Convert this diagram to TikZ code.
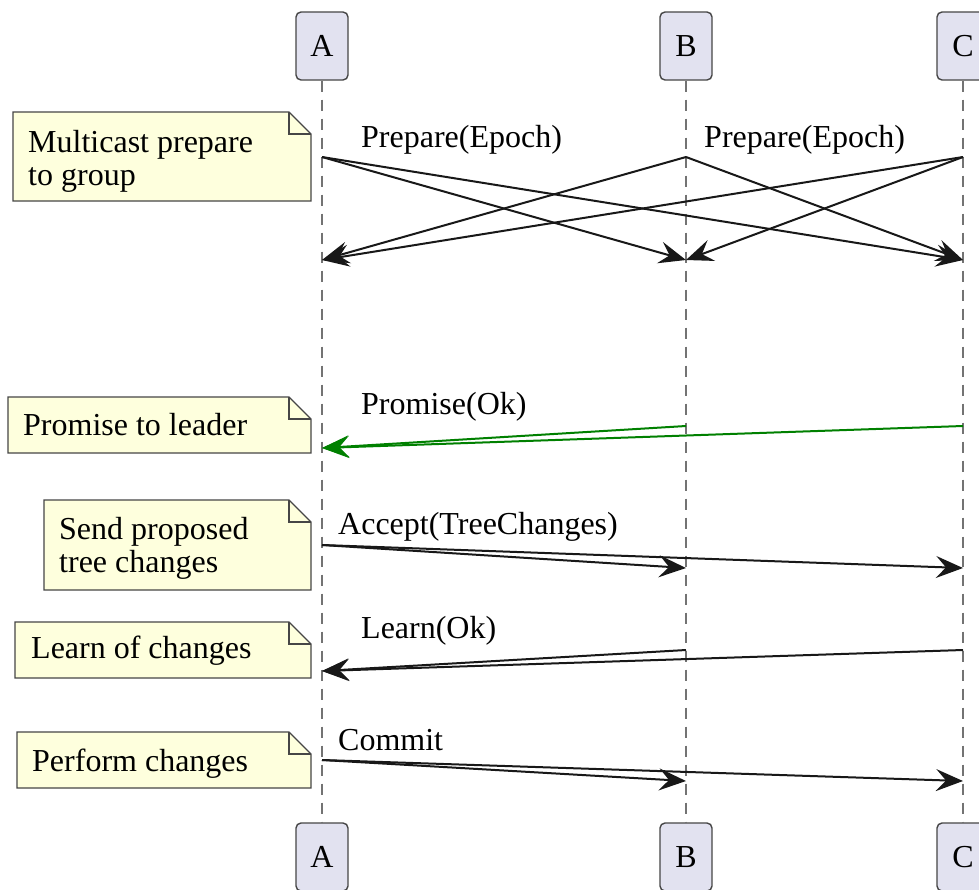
\documentclass[tikz,border=0pt]{standalone}
\usepackage{fontspec}
\setmainfont{Liberation Serif}
\usetikzlibrary{arrows.meta}
\definecolor{partfill}{HTML}{E2E2F0}
\definecolor{notefill}{HTML}{FEFFDD}
\definecolor{ink}{HTML}{181818}
\definecolor{okgreen}{HTML}{008000}
\tikzset{
  participant/.style={draw=ink!80, fill=partfill, line width=1.4pt, rounded corners=5pt,
    minimum width=52pt, minimum height=68pt, inner sep=0pt, font=\fontsize{32}{33}\selectfont},
  lifeline/.style={draw=gray!90!black, line width=1.3pt, dash pattern=on 11pt off 8pt},
  tip/.style={-{Stealth[length=27pt,width=22pt,inset=10pt]}},
  msg/.style={draw=ink, line width=2pt, tip},
  reply/.style={draw=okgreen, line width=2pt, tip},
  lbl/.style={anchor=base west, inner sep=0pt, font=\fontsize{32}{33}\selectfont},
  notebg/.style={draw=ink!80, fill=notefill, line width=1.2pt},
  notefold/.style={draw=ink!80, line width=1.2pt},
}
% note shape with a folded top-right corner: x1, y1, x2, y2
\newcommand\drawnote[4]{%
  \draw[notebg] (#1,#2) -- (#3-22,#2) -- (#3,#2+22) -- (#3,#4) -- (#1,#4) -- cycle;
  \draw[notefold] (#3-22,#2) -- (#3-22,#2+22) -- (#3,#2+22);}
\begin{document}
\begin{tikzpicture}[x=1pt,y=-1pt]
\useasboundingbox (0,0) rectangle (979,889);
\clip (0,0) rectangle (979,889);
\fill[white] (0,0) rectangle (979,889);

% participants, top and bottom
\node[participant] (Atop) at (322,46) {A};
\node[participant] (Btop) at (686,46) {B};
\node[participant] (Ctop) at (963,46) {C};
\node[participant] (Abot) at (322,857) {A};
\node[participant] (Bbot) at (686,857) {B};
\node[participant] (Cbot) at (963,857) {C};

% lifelines
\draw[lifeline] (Atop.south) -- (Abot.north);
\draw[lifeline] (Btop.south) -- (Bbot.north);
\draw[lifeline] (Ctop.south) -- (Cbot.north);

% message end points on the lifelines
\coordinate (pA) at (322,157);  \coordinate (pB) at (686,157);  \coordinate (pC) at (963,157);
\coordinate (qA) at (322,260);  \coordinate (qB) at (686,260);  \coordinate (qC) at (963,260);
\coordinate (rB) at (686,426);  \coordinate (rC) at (963,426);  \coordinate (rA) at (322,448);
\coordinate (sA) at (322,545);  \coordinate (sB) at (686,568);  \coordinate (sC) at (963,568);
\coordinate (tB) at (686,650);  \coordinate (tC) at (963,650);  \coordinate (tA) at (322,671);
\coordinate (uA) at (322,760);  \coordinate (uB) at (686,781);  \coordinate (uC) at (963,781);

% notes
\drawnote{13}{112}{311}{201}
\node[lbl] (n1a) at (28,152.5) {Multicast prepare};
\node[lbl] (n1b) at (28,185.5) {to group};

\drawnote{8}{397}{311}{453}
\node[lbl] (n2) at (23,435.5) {Promise to leader};

\drawnote{44}{500}{311}{590}
\node[lbl] (n3a) at (59,539) {Send proposed};
\node[lbl] (n3b) at (59,572) {tree changes};

\drawnote{15}{622}{311}{678}
\node[lbl] (n4) at (31,658) {Learn of changes};

\drawnote{17}{732}{311}{788}
\node[lbl] (n5) at (32,771.5) {Perform changes};

% prepare
\node[lbl] (m1a) at (361,147) {Prepare(Epoch)};
\node[lbl] (m1b) at (704,147) {Prepare(Epoch)};
\draw[msg] (pA) -- (qB);
\draw[msg] (pA) -- (qC);
\draw[msg] (pB) -- (qA);
\draw[msg] (pB) -- (qC);
\draw[msg] (pC) -- (qA);
\draw[msg] (pC) -- (qB);

% promise
\node[lbl] (m2) at (361,414) {Promise(Ok)};
\draw[reply] (rB) -- (rA);
\draw[reply] (rC) -- (rA);

% accept
\node[lbl] (m3) at (338,534) {Accept(TreeChanges)};
\draw[msg] (sA) -- (sB);
\draw[msg] (sA) -- (sC);

% learn
\node[lbl] (m4) at (361,638) {Learn(Ok)};
\draw[msg] (tB) -- (tA);
\draw[msg] (tC) -- (tA);

% commit
\node[lbl] (m5) at (338,750) {Commit};
\draw[msg] (uA) -- (uB);
\draw[msg] (uA) -- (uC);
\end{tikzpicture}
\end{document}
